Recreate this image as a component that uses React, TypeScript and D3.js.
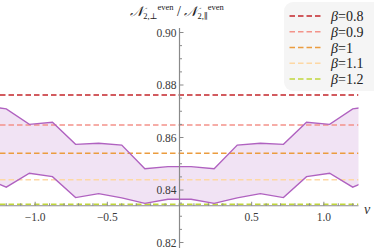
import * as d3 from 'd3'

const W = 374, H = 248
const FONT = 'Liberation Serif, Times New Roman, DejaVu Serif, serif'

// ν sample points (the outermost pair lies just outside the visible range)
const NU = [-1.36, -1.2, -1.04, -0.88, -0.72, -0.56, -0.4, -0.24, -0.08, 0.08, 0.24, 0.4, 0.56, 0.72, 0.88, 1.04, 1.2, 1.36]
const UPPER = [0.8721, 0.8709, 0.8650, 0.8658, 0.8574, 0.8578, 0.8571, 0.8481, 0.8489, 0.8489, 0.8481, 0.8571, 0.8578, 0.8574, 0.8658, 0.8650, 0.8709, 0.8721]
const LOWER = [0.8446, 0.8411, 0.8464, 0.8451, 0.8371, 0.8386, 0.8370, 0.8349, 0.8365, 0.8365, 0.8349, 0.8370, 0.8386, 0.8371, 0.8451, 0.8464, 0.8411, 0.8446]

const BETAS = ['0.8', '0.9', '1', '1.1', '1.2']
const BETA_LEVELS = [0.8762, 0.8648, 0.8540, 0.8439, 0.8346]
const BETA_COLORS = ['#c4262b', '#f3938a', '#eb9c3f', '#fdd8a4', '#c0d63c']

const X_TICKS = [-1, -0.5, 0.5, 1]
const Y_TICKS = [0.82, 0.84, 0.86, 0.88, 0.9]

const AXIS_Y = 0.834
const PURPLE = '#b062c0'
const AXIS = '#8a8a8a'

export default function App() {
  const x = d3.scaleLinear().domain([-1.24, 1.24]).range([0.5, 358.5])
  const y = d3.scaleLinear().domain([0.82, 0.9]).range([242.5, 32.5])

  const idx = NU.map((_, i) => i)
  const area = d3.area<number>().x(i => x(NU[i])).y0(i => y(LOWER[i])).y1(i => y(UPPER[i]))(idx)!
  const lineU = d3.line<number>().x(i => x(NU[i])).y(i => y(UPPER[i]))(idx)!
  const lineL = d3.line<number>().x(i => x(NU[i])).y(i => y(LOWER[i]))(idx)!

  const x0 = x(0), ay = y(AXIS_Y)
  const xMinor = d3.range(-12, 13).map(k => k / 10).filter(v => Math.abs(v * 2 - Math.round(v * 2)) > 1e-6)
  const yMinor = d3.range(0, 17).map(k => 0.82 + k * 0.005).filter(v => Math.abs(v * 50 - Math.round(v * 50)) > 1e-6)

  return (
    <div style={{ position: 'absolute', left: 0, top: 0 }}>
      <svg width={W} height={H} viewBox={`0 0 ${W} ${H}`} style={{ display: 'block' }}>
        <defs>
          <clipPath id="plot"><rect x={0} y={0} width={358.5} height={H} /></clipPath>
        </defs>

        <g clipPath="url(#plot)">
          <path d={area} fill={PURPLE} fillOpacity={0.18} />
          {BETA_LEVELS.map((v, i) => (
            <line key={i} x1={0} x2={358.5} y1={y(v)} y2={y(v)}
              stroke={BETA_COLORS[i]} strokeWidth={1.5} strokeDasharray="5.5 3" />
          ))}
          <path d={lineU} fill="none" stroke={PURPLE} strokeWidth={1.4} />
          <path d={lineL} fill="none" stroke={PURPLE} strokeWidth={1.4} />
        </g>

        {/* x axis */}
        <line x1={0} x2={358.5} y1={ay} y2={ay} stroke={AXIS} strokeWidth={1} />
        {X_TICKS.map(v => (
          <g key={v}>
            <line x1={x(v)} x2={x(v)} y1={ay} y2={ay - 4} stroke={AXIS} />
            <text x={x(v)} y={ay + 15} fontSize={11.5} fontFamily={FONT} textAnchor="middle" fill="#3a3a3a">
              {v < 0 ? '\u2212' + Math.abs(v).toFixed(1) : v.toFixed(1)}
            </text>
          </g>
        ))}
        {xMinor.map(v => (
          <line key={v} x1={x(v)} x2={x(v)} y1={ay} y2={ay - 2.5} stroke={AXIS} />
        ))}
        <text x={367} y={214} fontSize={14} fontFamily={FONT} fontStyle="italic" textAnchor="middle" fill="#333">ν</text>

        {/* y axis */}
        <line x1={x0} x2={x0} y1={28} y2={H} stroke={AXIS} strokeWidth={1.2} />
        {Y_TICKS.map(v => (
          <g key={v}>
            <line x1={x0} x2={x0 + 4} y1={y(v)} y2={y(v)} stroke={AXIS} />
            <text x={x0 - 3} y={y(v) + 4} fontSize={11.5} fontFamily={FONT} textAnchor="end" fill="#3a3a3a">{v.toFixed(2)}</text>
          </g>
        ))}
        {yMinor.map(v => (
          <line key={v} x1={x0} x2={x0 + 2.5} y1={y(v)} y2={y(v)} stroke={AXIS} />
        ))}

        {/* title */}
        <text x={177} y={16} textAnchor="middle" fill="#222" fontSize={14} fontFamily={FONT}>
          <tspan fontStyle="italic">𝒩</tspan>
          <tspan fontSize={8.5} dy={3}>2,⊥</tspan>
          <tspan fontSize={8.5} dy={-9}>even</tspan>
          <tspan dy={6}> / </tspan>
          <tspan fontStyle="italic">𝒩</tspan>
          <tspan fontSize={8.5} dy={3}>2,∥</tspan>
          <tspan fontSize={8.5} dy={-9}>even</tspan>
        </text>

        {/* legend */}
        <rect x={284} y={2} width={100} height={89} rx={9} fill="#f5f5f5" />
        {BETAS.map((b, i) => {
          const ry = 16 + i * 15.75
          return (
            <g key={b}>
              <line x1={289.5} x2={320.5} y1={ry} y2={ry} stroke={BETA_COLORS[i]} strokeWidth={1.5} strokeDasharray="5.5 3" />
              <text x={331} y={ry + 5} fontSize={14} fontFamily={FONT} fill="#222">
                <tspan fontStyle="italic">β</tspan>={b}
              </text>
            </g>
          )
        })}
      </svg>
    </div>
  )
}
